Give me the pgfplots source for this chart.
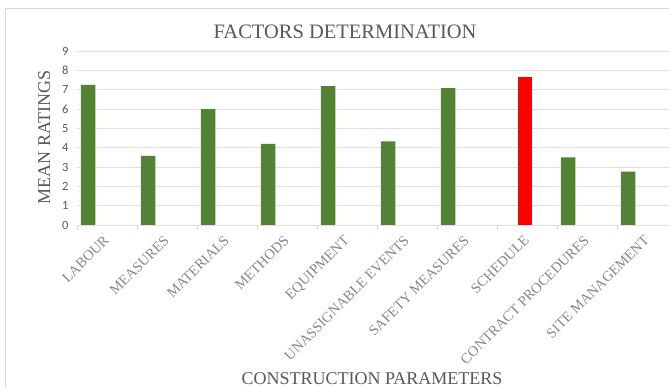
\documentclass[border=0pt]{standalone}
\usepackage{pgfplots}
\pgfplotsset{compat=1.18}
\usepackage{fontspec}
\setmainfont{Liberation Serif}
\newfontfamily\calibri{Carlito}
\definecolor{bargreen}{HTML}{548235}
\definecolor{barred}{HTML}{FF0000}
\definecolor{txtgrey}{HTML}{595959}
\definecolor{lblgrey}{HTML}{878787}
\definecolor{gridgrey}{HTML}{E0E0E0}
\definecolor{bordergrey}{HTML}{D9D9D9}
\begin{document}
\begin{tikzpicture}
\useasboundingbox (0pt,0pt) rectangle (669pt,388pt);
\clip (0pt,0pt) rectangle (669pt,388pt);
\fill[white] (0pt,0pt) rectangle (669pt,388pt);
\draw[bordergrey] (5pt,-10pt) -- (5pt,380pt) -- (700pt,380pt);
\begin{axis}[
  at={(77pt,163pt)}, anchor=south west,
  scale only axis, width=600pt, height=174pt,
  xmin=-0.5, xmax=9.5, ymin=0, ymax=9,
  ybar, bar width=14.5pt,
  axis line style={draw=none},
  ymajorgrids, grid style={gridgrey, line width=0.8pt},
  ytick={0,1,...,9},
  xtick={0,1,...,9},
  xticklabels={LABOUR, MEASURES, MATERIALS, METHODS, EQUIPMENT, UNASSIGNABLE EVENTS, SAFETY MEASURES, SCHEDULE, CONTRACT PROCEDURES, SITE MANAGEMENT},
  minor xtick={-0.5,0.5,...,9.5},
  xtick pos=bottom, ytick pos=left,
  tick align=outside,
  major tick length=0pt, minor tick length=5pt,
  minor tick style={bordergrey, line width=0.8pt},
  major tick style={draw=none},
  /pgf/number format/assume math mode=true,
  yticklabel style={font=\calibri\fontsize{12.5}{12.5}\selectfont, text=txtgrey, anchor=east, xshift=-5pt},
  xticklabel style={xshift=-4pt, yshift=-8pt, rotate=45, anchor=north east, font=\fontsize{14.4}{14.4}\selectfont, text=lblgrey, inner sep=1pt},
  title={FACTORS DETERMINATION},
  every axis title/.style={at={(axis description cs:0.4467,1.0747)}, anchor=base, font=\fontsize{20.5}{21}\selectfont, text=txtgrey},
  xlabel={CONSTRUCTION PARAMETERS},
  every axis x label/.style={at={(axis description cs:0.4917,-0.918)}, anchor=base, font=\fontsize{18}{18}\selectfont, text=txtgrey},
  ylabel={MEAN RATINGS},
  every axis y label/.style={at={(axis description cs:-0.045,0.503)}, anchor=base, rotate=90, font=\fontsize{18}{18}\selectfont, text=txtgrey},
]
\addplot[fill=bargreen, draw=none, bar shift=-19pt] coordinates {
  (0,7.25) (1,3.58) (2,6.00) (3,4.20) (4,7.18) (5,4.33) (6,7.08) (8,3.50) (9,2.76)
};
\addplot[fill=barred, draw=none, bar shift=-2pt] coordinates {
  (7,7.68)
};
\end{axis}
\end{tikzpicture}
\end{document}
